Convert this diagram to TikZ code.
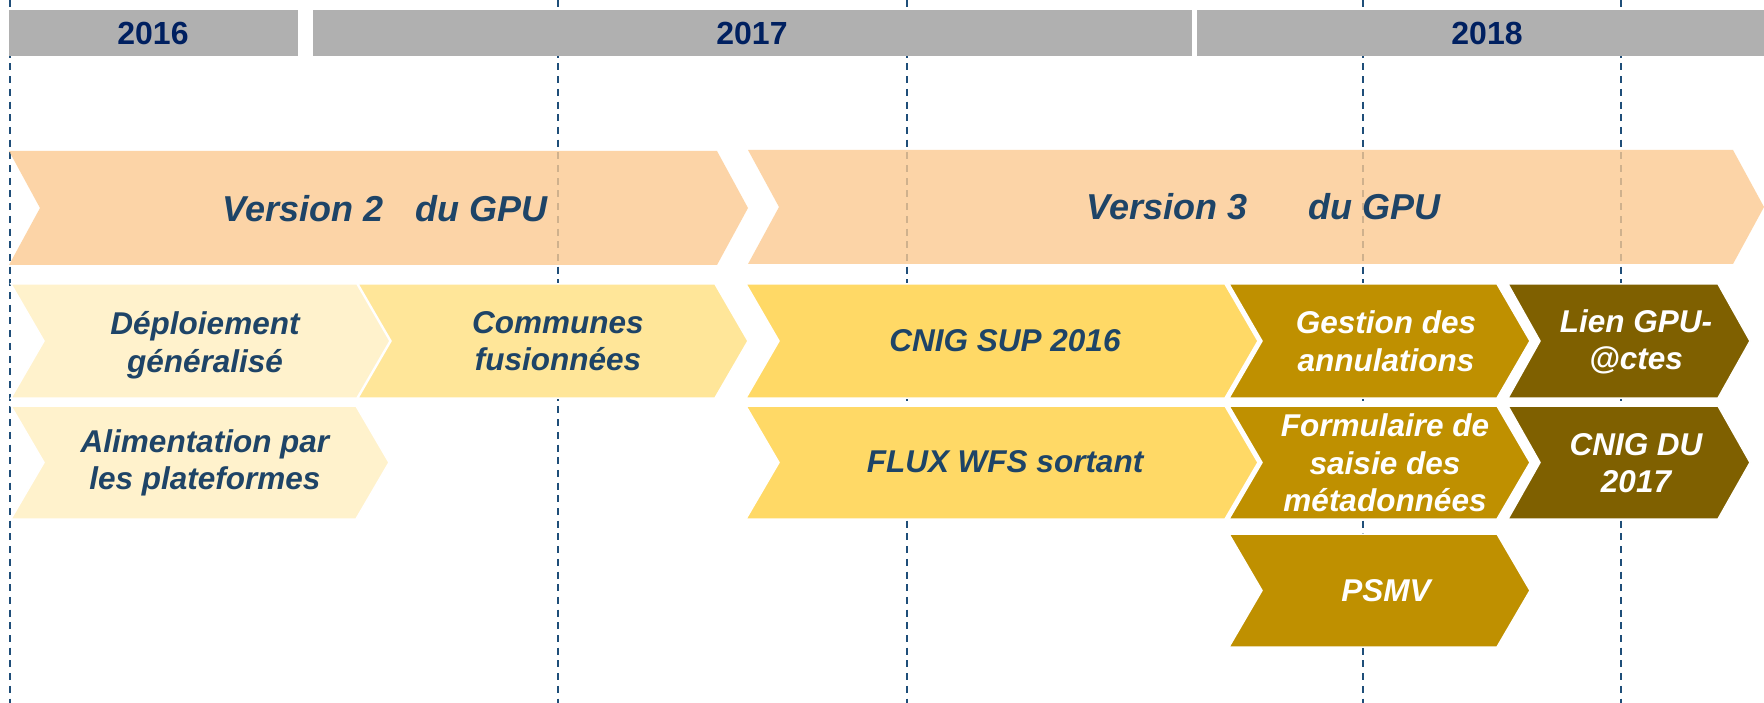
\documentclass[tikz,border=0pt]{standalone}
\usepackage{fontspec}
\setmainfont{Liberation Sans}
\definecolor{greybar}{RGB}{176,176,176}
\definecolor{yeartxt}{RGB}{0,32,96}
\definecolor{txtdark}{RGB}{30,68,103}
\definecolor{gridline}{RGB}{31,78,121}
\definecolor{peach}{RGB}{252,202,146}
\definecolor{cream}{RGB}{255,242,204}
\definecolor{goldA}{RGB}{255,230,153}
\definecolor{goldB}{RGB}{255,217,102}
\definecolor{goldC}{RGB}{191,144,0}
\definecolor{goldD}{RGB}{127,96,0}
\tikzset{
  gridl/.style={draw=gridline, line width=1.8pt, dash pattern=on 7pt off 5.7pt},
  yearbar/.style={fill=greybar},
  yeartext/.style={font=\fontsize{32}{38}\selectfont\bfseries, text=yeartxt, inner sep=0pt},
  bigchev/.style={fill=peach, fill opacity=0.8},
  chevbox/.style={draw=white, line width=1.5pt},
  bigtext/.style={font=\fontsize{36}{42}\selectfont\bfseries\itshape, text=txtdark, inner sep=0pt},
  lbl/.style={font=\fontsize{31.5}{37.5}\selectfont\bfseries\itshape, align=center, inner sep=0pt, text=txtdark},
  lblw/.style={lbl, text=white}
}
% chevron: x1 (left), notch depth d, tip x, y top, y bottom
\newcommand{\chevpath}[5]{(#1,#4) -- ({#3-#2},#4) -- (#3,{(#4+#5)/2}) -- ({#3-#2},#5) -- (#1,#5) -- ({#1+#2},{(#4+#5)/2}) -- cycle}
\begin{document}
\begin{tikzpicture}[x=1pt,y=-1pt]
\useasboundingbox (0,0) rectangle (1764,703);
\fill[white] (0,0) rectangle (1764,703);
% grid lines
\foreach \gx/\gn in {10/ga,558/gb,907/gc,1363/gd,1621/ge}{
  \coordinate (\gn top) at (\gx,0);
  \coordinate (\gn bot) at (\gx,703);
  \draw[gridl] (\gn top) -- (\gn bot);
}
% year bars
\fill[yearbar] (9,10) rectangle (298,56);
\fill[yearbar] (313,10) rectangle (1192,56);
\fill[yearbar] (1197,10) rectangle (1764,56);
\node[yeartext] (y2016) at (153,33.5) {2016};
\node[yeartext] (y2017) at (752,33.5) {2017};
\node[yeartext] (y2018) at (1487,33.5) {2018};
% version chevrons
\fill[bigchev] \chevpath{9}{31}{748}{151}{265};
\fill[bigchev] \chevpath{748}{31}{1764}{150}{264};
\node[bigtext] (v2) at (385,209) {Version 2\hspace{22pt} du GPU};
\node[bigtext] (v3) at (1263.5,207) {Version 3\hspace{51pt} du GPU};
% row A
\filldraw[chevbox, fill=cream] \chevpath{11}{33}{390}{284}{398};
\filldraw[chevbox, fill=goldA] \chevpath{358}{33}{748}{284}{398};
\filldraw[chevbox, fill=goldB] \chevpath{746}{33}{1258}{284}{398};
\filldraw[chevbox, fill=goldC] \chevpath{1229}{33}{1530}{284}{398};
\filldraw[chevbox, fill=goldD] \chevpath{1508}{32}{1750}{284}{398};
% row B
\filldraw[chevbox, fill=cream] \chevpath{11}{33}{389}{406}{519};
\filldraw[chevbox, fill=goldB] \chevpath{746}{33}{1258}{406}{519};
\filldraw[chevbox, fill=goldC] \chevpath{1229}{33}{1530}{406}{519};
\filldraw[chevbox, fill=goldD] \chevpath{1508}{32}{1750}{406}{519};
% row C
\filldraw[chevbox, fill=goldC] \chevpath{1229}{33}{1530}{534}{647};
% labels
\node[lbl] (deploi) at (205,345) {Déploiement\\généralisé};
\node[lbl] (communes) at (558,341) {Communes\\fusionnées};
\node[lbl] (alim) at (205,463) {Alimentation par\\les plateformes};
\node[lbl] (cnigsup) at (1005,341) {CNIG SUP 2016};
\node[lbl] (flux) at (1005,462) {FLUX WFS sortant};
\node[lblw] (gestion) at (1386,341) {Gestion des\\annulations};
\node[lblw] (formul) at (1385,463) {Formulaire de\\saisie des\\métadonnées};
\node[lblw] (psmv) at (1386,591) {PSMV};
\node[lblw] (lien) at (1636,342) {Lien GPU-\\@ctes};
\node[lblw] (cnigdu) at (1636,463) {CNIG DU\\2017};
\end{tikzpicture}
\end{document}
